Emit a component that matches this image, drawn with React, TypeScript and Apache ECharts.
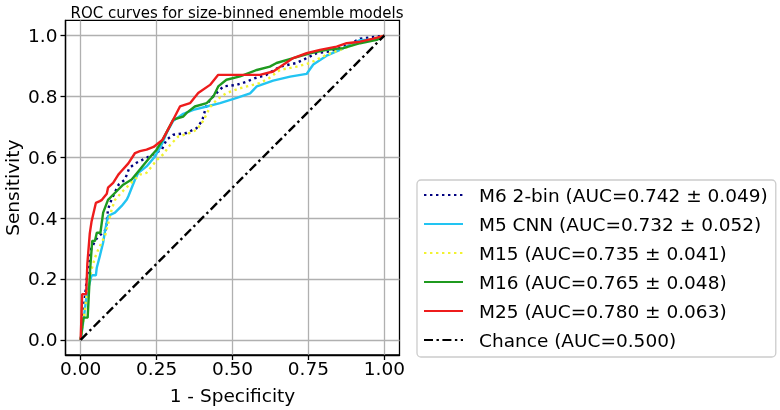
import React, { useEffect, useRef } from "react";
import * as echarts from "echarts";

const xTicks = [0, 0.25, 0.5, 0.75, 1.0];
const yTicks = [0, 0.2, 0.4, 0.6, 0.8, 1.0];

const seriesNames = [
  "M6 2-bin (AUC=0.742 ± 0.049)",
  "M5 CNN (AUC=0.732 ± 0.052)",
  "M15 (AUC=0.735 ± 0.041)",
  "M16 (AUC=0.765 ± 0.048)",
  "M25 (AUC=0.780 ± 0.063)",
  "Chance (AUC=0.500)",
];

// [FPR, TPR] pairs
const m6Points = [
  [0, 0], [0.01, 0.1], [0.02, 0.2], [0.035, 0.3], [0.05, 0.33], [0.06, 0.34], [0.083, 0.363],
  [0.09, 0.428], [0.097, 0.45], [0.11, 0.48], [0.125, 0.51], [0.146, 0.527], [0.16, 0.565],
  [0.184, 0.582], [0.2, 0.59], [0.24, 0.61], [0.267, 0.625], [0.283, 0.658], [0.305, 0.674],
  [0.349, 0.68], [0.382, 0.696], [0.4, 0.72], [0.415, 0.773], [0.431, 0.795], [0.47, 0.833],
  [0.514, 0.838], [0.547, 0.849], [0.574, 0.86], [0.612, 0.871], [0.656, 0.898], [0.711, 0.91],
  [0.777, 0.942], [0.82, 0.948], [0.87, 0.965], [0.92, 0.99], [1, 1],
];

const m5Points = [
  [0, 0], [0.01, 0.07], [0.02, 0.15], [0.036, 0.212], [0.05, 0.212], [0.053, 0.237], [0.063, 0.275],
  [0.074, 0.32], [0.08, 0.357], [0.09, 0.407], [0.113, 0.418], [0.135, 0.44], [0.152, 0.461],
  [0.157, 0.472], [0.179, 0.527], [0.19, 0.549], [0.217, 0.57], [0.245, 0.603], [0.267, 0.642],
  [0.283, 0.68], [0.305, 0.72], [0.338, 0.743], [0.371, 0.756], [0.415, 0.767], [0.459, 0.778],
  [0.514, 0.795], [0.558, 0.81], [0.58, 0.833], [0.634, 0.852], [0.69, 0.865], [0.744, 0.874],
  [0.766, 0.905], [0.81, 0.934], [0.854, 0.953], [0.887, 0.97], [0.92, 0.985], [0.975, 0.988], [1, 1],
];

const m15Points = [
  [0, 0], [0.01, 0.07], [0.02, 0.15], [0.03, 0.2], [0.036, 0.232], [0.047, 0.27], [0.058, 0.297],
  [0.069, 0.32], [0.08, 0.341], [0.09, 0.38], [0.102, 0.428], [0.113, 0.46], [0.14, 0.49],
  [0.17, 0.52], [0.195, 0.543], [0.217, 0.549], [0.25, 0.59], [0.272, 0.61], [0.294, 0.64],
  [0.322, 0.669], [0.349, 0.676], [0.382, 0.69], [0.404, 0.72], [0.426, 0.765], [0.448, 0.789],
  [0.48, 0.811], [0.525, 0.827], [0.59, 0.844], [0.62, 0.86], [0.656, 0.887], [0.711, 0.898],
  [0.755, 0.91], [0.81, 0.937], [0.854, 0.953], [0.898, 0.97], [0.964, 0.99], [1, 1],
];

const m16Points = [
  [0, 0], [0.009, 0.073], [0.023, 0.073], [0.031, 0.23], [0.038, 0.325], [0.047, 0.325],
  [0.053, 0.352], [0.065, 0.352], [0.074, 0.418], [0.09, 0.46], [0.124, 0.494], [0.14, 0.51],
  [0.168, 0.527], [0.195, 0.56], [0.228, 0.6], [0.25, 0.625], [0.27, 0.658], [0.305, 0.724],
  [0.338, 0.734], [0.349, 0.746], [0.376, 0.767], [0.415, 0.778], [0.437, 0.8], [0.453, 0.833],
  [0.48, 0.855], [0.525, 0.866], [0.58, 0.887], [0.623, 0.898], [0.645, 0.91], [0.7, 0.926],
  [0.755, 0.942], [0.81, 0.953], [0.865, 0.959], [0.92, 0.975], [0.975, 0.986], [1, 1],
];

const m25Points = [
  [0, 0], [0.005, 0.15], [0.018, 0.15], [0.022, 0.25], [0.03, 0.35], [0.036, 0.39], [0.05, 0.45],
  [0.063, 0.456], [0.07, 0.46], [0.086, 0.48], [0.09, 0.5], [0.107, 0.516], [0.124, 0.543],
  [0.13, 0.55], [0.157, 0.58], [0.179, 0.614], [0.195, 0.62], [0.217, 0.625], [0.24, 0.634],
  [0.27, 0.658], [0.305, 0.724], [0.327, 0.767], [0.36, 0.778], [0.387, 0.811], [0.426, 0.838],
  [0.453, 0.871], [0.59, 0.871], [0.634, 0.882], [0.7, 0.926], [0.744, 0.942], [0.788, 0.953],
  [0.843, 0.964], [0.876, 0.975], [0.92, 0.98], [0.964, 0.99], [1, 1],
];

const chancePoints = [[0, 0], [1, 1]];

const FONT = "DejaVu Sans";

export default function App() {
  const ref = useRef<HTMLDivElement>(null);
  useEffect(() => {
    if (!ref.current) return;
    const chart = echarts.init(ref.current, null, { renderer: "svg" });
    const mk = (name: string, data: number[][], color: string, type: any) => ({
      name,
      type: "line",
      data,
      showSymbol: false,
      symbol: "none",
      lineStyle: { color, width: 2.4, type },
      itemStyle: { color },
    });
    chart.setOption({
      animation: false,
      textStyle: { fontFamily: FONT },
      title: {
        text: "ROC curves for size-binned enemble models",
        left: 232,
        top: 0,
        textAlign: "center",
        textStyle: { fontFamily: FONT, fontSize: 15, fontWeight: "normal", color: "#000" },
      },
      grid: {
        left: 65.5,
        right: 780 - 399.5,
        top: 20.4,
        bottom: 410 - 356,
        show: true,
        borderColor: "#000",
        borderWidth: 1.3,
        backgroundColor: "#fff",
      },
      xAxis: {
        type: "value",
        min: -0.05,
        max: 1.05,
        name: "1 - Specificity",
        nameLocation: "middle",
        nameGap: 31,
        nameTextStyle: { fontFamily: FONT, fontSize: 18.5, color: "#000" },
        axisLine: { show: true, onZero: false, lineStyle: { color: "#000", width: 1.3 } },
        axisTick: { show: true, length: 5, customValues: xTicks, lineStyle: { color: "#000", width: 1.3 } },
        axisLabel: {
          customValues: xTicks,
          margin: 4,
          fontFamily: FONT,
          fontSize: 18.5,
          color: "#000",
          formatter: (v: number) => v.toFixed(2),
        },
        splitLine: { show: true, lineStyle: { color: "#b0b0b0", width: 1.3 } },
      },
      yAxis: {
        type: "value",
        min: -0.05,
        max: 1.05,
        name: "Sensitivity",
        nameLocation: "middle",
        nameGap: 44,
        nameTextStyle: { fontFamily: FONT, fontSize: 18.5, color: "#000" },
        axisLine: { show: true, onZero: false, lineStyle: { color: "#000", width: 1.3 } },
        axisTick: { show: true, length: 5, customValues: yTicks, lineStyle: { color: "#000", width: 1.3 } },
        axisLabel: {
          customValues: yTicks,
          margin: 8,
          fontFamily: FONT,
          fontSize: 18.5,
          color: "#000",
          formatter: (v: number) => v.toFixed(1),
        },
        splitLine: { show: true, lineStyle: { color: "#b0b0b0", width: 1.3 } },
      },
      legend: {
        orient: "vertical",
        left: 417,
        top: 180,
        padding: [4, 8, 6, 6],
        itemGap: 7,
        itemWidth: 39,
        itemHeight: 14,
        backgroundColor: "#fff",
        borderColor: "#cccccc",
        borderWidth: 1.3,
        borderRadius: 4,
        data: seriesNames,
        itemStyle: { opacity: 0, borderWidth: 0 },
        textStyle: {
          fontFamily: FONT,
          fontSize: 18.5,
          color: "#000",
          lineHeight: 22,
          padding: [0, 0, 0, 11],
        },
      },
      series: [
        mk(seriesNames[0], m6Points, "#000080", [2.4, 3.6]),
        mk(seriesNames[1], m5Points, "#22c4f2", "solid"),
        mk(seriesNames[2], m15Points, "#f2f230", [2.4, 3.6]),
        mk(seriesNames[3], m16Points, "#1f9a1f", "solid"),
        mk(seriesNames[4], m25Points, "#ee1c1c", "solid"),
        mk(seriesNames[5], chancePoints, "#000000", [9, 3.5, 2.4, 3.5]),
      ],
    });
    return () => chart.dispose();
  }, []);
  return (
    <div
      ref={ref}
      style={{ position: "fixed", left: 0, top: 0, width: 780, height: 410 }}
    />
  );
}
